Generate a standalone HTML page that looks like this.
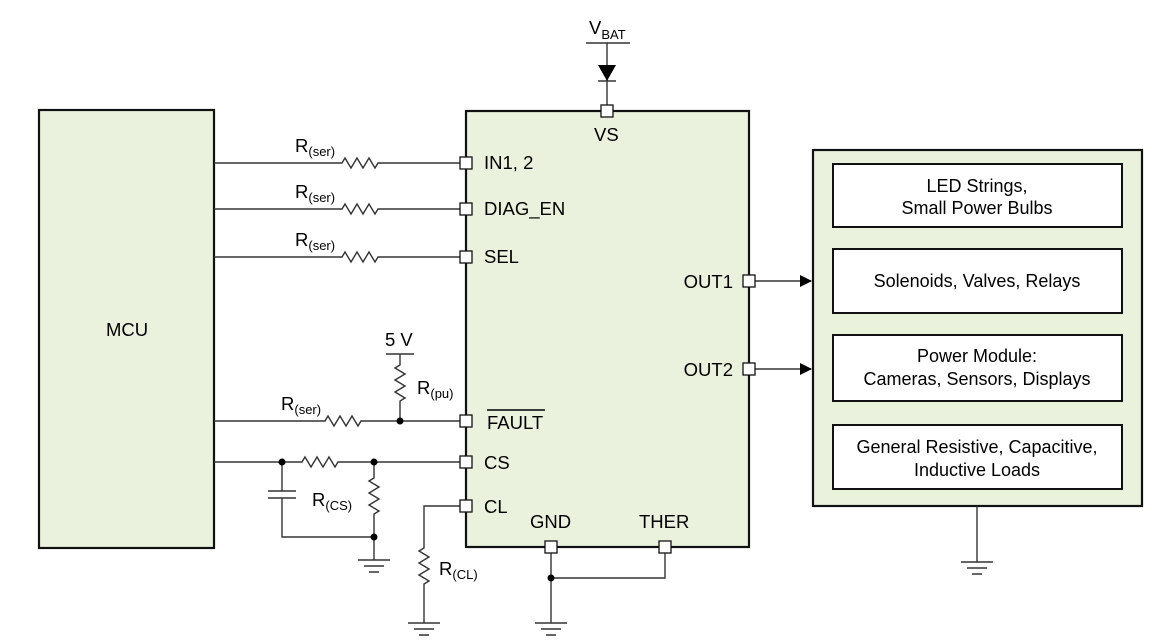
<!DOCTYPE html>
<html><head><meta charset="utf-8"><style>
html,body{margin:0;padding:0;background:#fff;}
svg{display:block;font-family:"Liberation Sans",Arial,sans-serif;}
</style></head><body>
<svg width="1152" height="643" viewBox="0 0 1152 643" xmlns="http://www.w3.org/2000/svg">
<defs>
<marker id="ar" markerWidth="12" markerHeight="12" refX="11" refY="6" orient="auto" markerUnits="userSpaceOnUse"><path d="M0,0 L12,6 L0,12 z" fill="#000"/></marker>
</defs>
<g fill="#eaf1dd" stroke="#111" stroke-width="2.2">
<rect x="39" y="110" width="175" height="438"/>
<rect x="466" y="111" width="283" height="436"/>
<rect x="813" y="150" width="329" height="356"/>
</g>
<g fill="#fff" stroke="#111" stroke-width="2">
<rect x="833" y="164" width="289" height="63"/>
<rect x="833" y="249" width="289" height="64"/>
<rect x="833" y="335" width="289" height="66"/>
<rect x="833" y="425" width="289" height="64"/>
</g>
<g stroke="#333" stroke-width="1.4" fill="none">
<path d="M214,163 H342 l3,-5 l6,10 l6,-10 l6,10 l6,-10 l6,10 l3,-5 H466"/>
<path d="M214,209 H342 l3,-5 l6,10 l6,-10 l6,10 l6,-10 l6,10 l3,-5 H466"/>
<path d="M214,257 H342 l3,-5 l6,10 l6,-10 l6,10 l6,-10 l6,10 l3,-5 H466"/>
<path d="M214,421 H325 l3,-5 l6,10 l6,-10 l6,10 l6,-10 l6,10 l3,-5 H466"/>
<path d="M386,354 H414 M400,354 V365 l-5,3 l10,6 l-10,6 l10,6 l-10,6 l10,6 l-5,3 V421"/>
<path d="M214,462 H302 l3,-5 l6,10 l6,-10 l6,10 l6,-10 l6,10 l3,-5 H466"/>
<path d="M374,462 V478 l-5,3 l10,6 l-10,6 l10,6 l-10,6 l10,6 l-5,3 V560"/>
<path d="M282,462 V491 M268,491 H296 M268,498 H296 M282,498 V537 H374"/>
<path d="M358,560 H390 M364,566 H384 M369,572 H379"/>
<path d="M466,506 H424 V548 l-5,3 l10,6 l-10,6 l10,6 l-10,6 l10,6 l-5,3 V623"/>
<path d="M408,623 H440 M414,629 H434 M419,635 H429"/>
<path d="M551,547 V623 M551,578 H665 V547"/>
<path d="M535,623 H567 M541,629 H561 M546,635 H556"/>
<path d="M977,506 V562 M961,562 H993 M967,568 H987 M972,574 H982"/>
<path d="M586,43 H630 M607,43 V111 M598,81 H616"/>
<path d="M749,281 H811" marker-end="url(#ar)"/>
<path d="M749,369 H811" marker-end="url(#ar)"/>
</g>
<path d="M598,65 H616 L607,81 z" fill="#000"/>
<g fill="#000">
<circle cx="400" cy="421" r="3.5"/><circle cx="282" cy="462" r="3.5"/><circle cx="374" cy="462" r="3.5"/><circle cx="374" cy="537" r="3.5"/><circle cx="551" cy="578" r="3.5"/>
</g>
<g fill="#fff" stroke="#111" stroke-width="1.3">
<rect x="460" y="157" width="12" height="12"/>
<rect x="460" y="203" width="12" height="12"/>
<rect x="460" y="251" width="12" height="12"/>
<rect x="460" y="415" width="12" height="12"/>
<rect x="460" y="456" width="12" height="12"/>
<rect x="460" y="500" width="12" height="12"/>
<rect x="743" y="275" width="12" height="12"/>
<rect x="743" y="363" width="12" height="12"/>
<rect x="601" y="105" width="12" height="12"/>
<rect x="545" y="541" width="12" height="12"/>
<rect x="659" y="541" width="12" height="12"/>
</g>
<g font-size="18.5" fill="#000">
<text x="106" y="336">MCU</text>
<text x="484" y="169">IN1, 2</text>
<text x="484" y="215">DIAG_EN</text>
<text x="484" y="263">SEL</text>
<text x="487" y="429">FAULT</text>
<path d="M487,410 H545" stroke="#000" stroke-width="1.5"/>
<text x="484" y="469">CS</text>
<text x="484" y="513">CL</text>
<text x="530" y="528">GND</text>
<text x="639" y="528">THER</text>
<text x="594" y="141">VS</text>
<text x="733" y="288" text-anchor="end">OUT1</text>
<text x="733" y="376" text-anchor="end">OUT2</text>
<text x="589" y="34">V<tspan font-size="13" dy="5">BAT</tspan></text>
<text x="385" y="346">5 V</text>
<text x="295" y="152">R<tspan font-size="13" dy="4">(ser)</tspan></text>
<text x="295" y="198">R<tspan font-size="13" dy="4">(ser)</tspan></text>
<text x="295" y="246">R<tspan font-size="13" dy="4">(ser)</tspan></text>
<text x="281" y="410">R<tspan font-size="13" dy="4">(ser)</tspan></text>
<text x="417" y="394">R<tspan font-size="13" dy="4">(pu)</tspan></text>
<text x="312" y="506">R<tspan font-size="13" dy="4">(CS)</tspan></text>
<text x="439" y="575">R<tspan font-size="13" dy="4">(CL)</tspan></text>
</g>
<g font-size="18" fill="#000" text-anchor="middle">
<text x="977" y="192">LED Strings,</text>
<text x="977" y="214">Small Power Bulbs</text>
<text x="977" y="287">Solenoids, Valves,  Relays</text>
<text x="977" y="362">Power Module:</text>
<text x="977" y="385">Cameras, Sensors, Displays</text>
<text x="977" y="453">General Resistive, Capacitive,</text>
<text x="977" y="476">Inductive Loads</text>
</g>
</svg>
</body></html>
